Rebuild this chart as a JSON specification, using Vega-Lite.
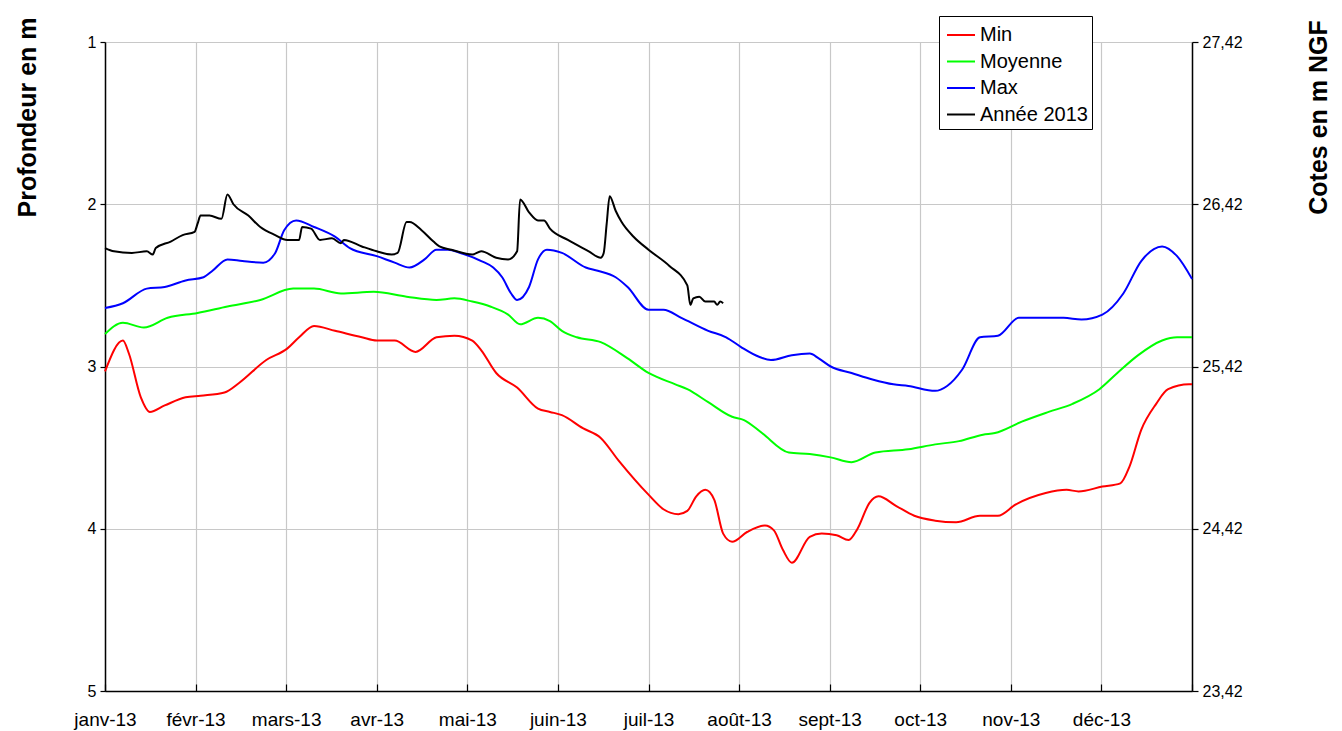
{
  "$schema": "https://vega.github.io/schema/vega-lite/v6.json",
  "width": 1087,
  "height": 649,
  "autosize": {"type": "none"},
  "padding": {"left": 105, "top": 42, "right": 150, "bottom": 40},
  "background": "white",
  "config": {
    "view": {"stroke": null},
    "font": "Liberation Sans",
    "axis": {"labelFont": "Liberation Sans", "titleFont": "Liberation Sans", "labelColor": "black", "titleColor": "black", "domainColor": "black", "tickColor": "black", "domainWidth": 1.5, "tickWidth": 1.2}
  },
  "data": {"values": [
    {"date":"2013-01-01","serie":"Min","profondeur":3.03},
    {"date":"2013-01-07","serie":"Min","profondeur":2.84},
    {"date":"2013-01-09","serie":"Min","profondeur":2.92},
    {"date":"2013-01-13","serie":"Min","profondeur":3.19},
    {"date":"2013-01-16","serie":"Min","profondeur":3.28},
    {"date":"2013-01-21","serie":"Min","profondeur":3.24},
    {"date":"2013-01-28","serie":"Min","profondeur":3.19},
    {"date":"2013-02-02","serie":"Min","profondeur":3.18},
    {"date":"2013-02-10","serie":"Min","profondeur":3.16},
    {"date":"2013-02-15","serie":"Min","profondeur":3.10},
    {"date":"2013-02-24","serie":"Min","profondeur":2.96},
    {"date":"2013-03-03","serie":"Min","profondeur":2.89},
    {"date":"2013-03-07","serie":"Min","profondeur":2.82},
    {"date":"2013-03-12","serie":"Min","profondeur":2.75},
    {"date":"2013-03-19","serie":"Min","profondeur":2.78},
    {"date":"2013-03-28","serie":"Min","profondeur":2.82},
    {"date":"2013-04-02","serie":"Min","profondeur":2.84},
    {"date":"2013-04-08","serie":"Min","profondeur":2.84},
    {"date":"2013-04-15","serie":"Min","profondeur":2.91},
    {"date":"2013-04-22","serie":"Min","profondeur":2.82},
    {"date":"2013-04-28","serie":"Min","profondeur":2.81},
    {"date":"2013-05-04","serie":"Min","profondeur":2.84},
    {"date":"2013-05-07","serie":"Min","profondeur":2.90},
    {"date":"2013-05-12","serie":"Min","profondeur":3.04},
    {"date":"2013-05-19","serie":"Min","profondeur":3.13},
    {"date":"2013-05-26","serie":"Min","profondeur":3.26},
    {"date":"2013-05-30","serie":"Min","profondeur":3.28},
    {"date":"2013-06-03","serie":"Min","profondeur":3.30},
    {"date":"2013-06-10","serie":"Min","profondeur":3.38},
    {"date":"2013-06-16","serie":"Min","profondeur":3.44},
    {"date":"2013-06-22","serie":"Min","profondeur":3.58},
    {"date":"2013-07-02","serie":"Min","profondeur":3.79},
    {"date":"2013-07-07","serie":"Min","profondeur":3.88},
    {"date":"2013-07-12","serie":"Min","profondeur":3.91},
    {"date":"2013-07-15","serie":"Min","profondeur":3.89},
    {"date":"2013-07-18","serie":"Min","profondeur":3.80},
    {"date":"2013-07-21","serie":"Min","profondeur":3.76},
    {"date":"2013-07-24","serie":"Min","profondeur":3.82},
    {"date":"2013-07-27","serie":"Min","profondeur":4.03},
    {"date":"2013-07-30","serie":"Min","profondeur":4.08},
    {"date":"2013-08-04","serie":"Min","profondeur":4.02},
    {"date":"2013-08-10","serie":"Min","profondeur":3.98},
    {"date":"2013-08-13","serie":"Min","profondeur":4.01},
    {"date":"2013-08-16","serie":"Min","profondeur":4.13},
    {"date":"2013-08-19","serie":"Min","profondeur":4.21},
    {"date":"2013-08-25","serie":"Min","profondeur":4.05},
    {"date":"2013-08-29","serie":"Min","profondeur":4.03},
    {"date":"2013-09-03","serie":"Min","profondeur":4.04},
    {"date":"2013-09-07","serie":"Min","profondeur":4.07},
    {"date":"2013-09-10","serie":"Min","profondeur":4.00},
    {"date":"2013-09-14","serie":"Min","profondeur":3.84},
    {"date":"2013-09-17","serie":"Min","profondeur":3.80},
    {"date":"2013-09-23","serie":"Min","profondeur":3.86},
    {"date":"2013-09-29","serie":"Min","profondeur":3.92},
    {"date":"2013-10-06","serie":"Min","profondeur":3.95},
    {"date":"2013-10-13","serie":"Min","profondeur":3.96},
    {"date":"2013-10-21","serie":"Min","profondeur":3.92},
    {"date":"2013-10-27","serie":"Min","profondeur":3.92},
    {"date":"2013-11-02","serie":"Min","profondeur":3.85},
    {"date":"2013-11-12","serie":"Min","profondeur":3.78},
    {"date":"2013-11-19","serie":"Min","profondeur":3.76},
    {"date":"2013-11-23","serie":"Min","profondeur":3.77},
    {"date":"2013-12-01","serie":"Min","profondeur":3.74},
    {"date":"2013-12-07","serie":"Min","profondeur":3.72},
    {"date":"2013-12-10","serie":"Min","profondeur":3.62},
    {"date":"2013-12-14","serie":"Min","profondeur":3.39},
    {"date":"2013-12-19","serie":"Min","profondeur":3.23},
    {"date":"2013-12-23","serie":"Min","profondeur":3.14},
    {"date":"2013-12-30","serie":"Min","profondeur":3.11},
    {"date":"2013-12-31","serie":"Min","profondeur":3.11},

    {"date":"2013-01-01","serie":"Moyenne","profondeur":2.80},
    {"date":"2013-01-07","serie":"Moyenne","profondeur":2.73},
    {"date":"2013-01-14","serie":"Moyenne","profondeur":2.76},
    {"date":"2013-01-22","serie":"Moyenne","profondeur":2.70},
    {"date":"2013-02-01","serie":"Moyenne","profondeur":2.67},
    {"date":"2013-02-11","serie":"Moyenne","profondeur":2.63},
    {"date":"2013-02-22","serie":"Moyenne","profondeur":2.59},
    {"date":"2013-03-05","serie":"Moyenne","profondeur":2.52},
    {"date":"2013-03-12","serie":"Moyenne","profondeur":2.52},
    {"date":"2013-03-21","serie":"Moyenne","profondeur":2.55},
    {"date":"2013-04-01","serie":"Moyenne","profondeur":2.54},
    {"date":"2013-04-12","serie":"Moyenne","profondeur":2.57},
    {"date":"2013-04-22","serie":"Moyenne","profondeur":2.59},
    {"date":"2013-04-28","serie":"Moyenne","profondeur":2.58},
    {"date":"2013-05-04","serie":"Moyenne","profondeur":2.60},
    {"date":"2013-05-10","serie":"Moyenne","profondeur":2.63},
    {"date":"2013-05-16","serie":"Moyenne","profondeur":2.68},
    {"date":"2013-05-20","serie":"Moyenne","profondeur":2.74},
    {"date":"2013-05-26","serie":"Moyenne","profondeur":2.70},
    {"date":"2013-05-30","serie":"Moyenne","profondeur":2.72},
    {"date":"2013-06-03","serie":"Moyenne","profondeur":2.78},
    {"date":"2013-06-08","serie":"Moyenne","profondeur":2.82},
    {"date":"2013-06-16","serie":"Moyenne","profondeur":2.85},
    {"date":"2013-06-25","serie":"Moyenne","profondeur":2.95},
    {"date":"2013-07-02","serie":"Moyenne","profondeur":3.04},
    {"date":"2013-07-11","serie":"Moyenne","profondeur":3.11},
    {"date":"2013-07-15","serie":"Moyenne","profondeur":3.14},
    {"date":"2013-07-22","serie":"Moyenne","profondeur":3.22},
    {"date":"2013-07-30","serie":"Moyenne","profondeur":3.31},
    {"date":"2013-08-03","serie":"Moyenne","profondeur":3.33},
    {"date":"2013-08-09","serie":"Moyenne","profondeur":3.41},
    {"date":"2013-08-18","serie":"Moyenne","profondeur":3.53},
    {"date":"2013-08-25","serie":"Moyenne","profondeur":3.54},
    {"date":"2013-09-01","serie":"Moyenne","profondeur":3.56},
    {"date":"2013-09-08","serie":"Moyenne","profondeur":3.59},
    {"date":"2013-09-16","serie":"Moyenne","profondeur":3.53},
    {"date":"2013-09-27","serie":"Moyenne","profondeur":3.51},
    {"date":"2013-10-06","serie":"Moyenne","profondeur":3.48},
    {"date":"2013-10-14","serie":"Moyenne","profondeur":3.46},
    {"date":"2013-10-22","serie":"Moyenne","profondeur":3.42},
    {"date":"2013-10-26","serie":"Moyenne","profondeur":3.41},
    {"date":"2013-11-04","serie":"Moyenne","profondeur":3.34},
    {"date":"2013-11-13","serie":"Moyenne","profondeur":3.28},
    {"date":"2013-11-21","serie":"Moyenne","profondeur":3.23},
    {"date":"2013-11-30","serie":"Moyenne","profondeur":3.14},
    {"date":"2013-12-06","serie":"Moyenne","profondeur":3.04},
    {"date":"2013-12-13","serie":"Moyenne","profondeur":2.93},
    {"date":"2013-12-21","serie":"Moyenne","profondeur":2.84},
    {"date":"2013-12-26","serie":"Moyenne","profondeur":2.82},
    {"date":"2013-12-31","serie":"Moyenne","profondeur":2.82},

    {"date":"2013-01-01","serie":"Max","profondeur":2.64},
    {"date":"2013-01-07","serie":"Max","profondeur":2.61},
    {"date":"2013-01-15","serie":"Max","profondeur":2.52},
    {"date":"2013-01-21","serie":"Max","profondeur":2.51},
    {"date":"2013-01-28","serie":"Max","profondeur":2.47},
    {"date":"2013-02-03","serie":"Max","profondeur":2.45},
    {"date":"2013-02-06","serie":"Max","profondeur":2.41},
    {"date":"2013-02-11","serie":"Max","profondeur":2.34},
    {"date":"2013-02-16","serie":"Max","profondeur":2.35},
    {"date":"2013-02-23","serie":"Max","profondeur":2.36},
    {"date":"2013-02-27","serie":"Max","profondeur":2.30},
    {"date":"2013-03-02","serie":"Max","profondeur":2.16},
    {"date":"2013-03-06","serie":"Max","profondeur":2.10},
    {"date":"2013-03-12","serie":"Max","profondeur":2.14},
    {"date":"2013-03-19","serie":"Max","profondeur":2.20},
    {"date":"2013-03-24","serie":"Max","profondeur":2.27},
    {"date":"2013-04-02","serie":"Max","profondeur":2.32},
    {"date":"2013-04-08","serie":"Max","profondeur":2.36},
    {"date":"2013-04-13","serie":"Max","profondeur":2.39},
    {"date":"2013-04-18","serie":"Max","profondeur":2.34},
    {"date":"2013-04-22","serie":"Max","profondeur":2.28},
    {"date":"2013-04-26","serie":"Max","profondeur":2.28},
    {"date":"2013-04-30","serie":"Max","profondeur":2.30},
    {"date":"2013-05-07","serie":"Max","profondeur":2.35},
    {"date":"2013-05-11","serie":"Max","profondeur":2.39},
    {"date":"2013-05-14","serie":"Max","profondeur":2.45},
    {"date":"2013-05-17","serie":"Max","profondeur":2.55},
    {"date":"2013-05-19","serie":"Max","profondeur":2.59},
    {"date":"2013-05-23","serie":"Max","profondeur":2.51},
    {"date":"2013-05-26","serie":"Max","profondeur":2.34},
    {"date":"2013-05-29","serie":"Max","profondeur":2.28},
    {"date":"2013-06-03","serie":"Max","profondeur":2.30},
    {"date":"2013-06-11","serie":"Max","profondeur":2.39},
    {"date":"2013-06-15","serie":"Max","profondeur":2.41},
    {"date":"2013-06-21","serie":"Max","profondeur":2.45},
    {"date":"2013-06-25","serie":"Max","profondeur":2.51},
    {"date":"2013-07-02","serie":"Max","profondeur":2.65},
    {"date":"2013-07-07","serie":"Max","profondeur":2.65},
    {"date":"2013-07-13","serie":"Max","profondeur":2.70},
    {"date":"2013-07-22","serie":"Max","profondeur":2.78},
    {"date":"2013-07-28","serie":"Max","profondeur":2.82},
    {"date":"2013-08-02","serie":"Max","profondeur":2.88},
    {"date":"2013-08-08","serie":"Max","profondeur":2.94},
    {"date":"2013-08-12","serie":"Max","profondeur":2.96},
    {"date":"2013-08-19","serie":"Max","profondeur":2.93},
    {"date":"2013-08-25","serie":"Max","profondeur":2.92},
    {"date":"2013-08-28","serie":"Max","profondeur":2.95},
    {"date":"2013-09-01","serie":"Max","profondeur":3.00},
    {"date":"2013-09-08","serie":"Max","profondeur":3.04},
    {"date":"2013-09-15","serie":"Max","profondeur":3.08},
    {"date":"2013-09-22","serie":"Max","profondeur":3.11},
    {"date":"2013-09-27","serie":"Max","profondeur":3.12},
    {"date":"2013-10-06","serie":"Max","profondeur":3.15},
    {"date":"2013-10-10","serie":"Max","profondeur":3.12},
    {"date":"2013-10-15","serie":"Max","profondeur":3.02},
    {"date":"2013-10-21","serie":"Max","profondeur":2.82},
    {"date":"2013-10-27","serie":"Max","profondeur":2.81},
    {"date":"2013-11-03","serie":"Max","profondeur":2.70},
    {"date":"2013-11-10","serie":"Max","profondeur":2.70},
    {"date":"2013-11-18","serie":"Max","profondeur":2.70},
    {"date":"2013-11-24","serie":"Max","profondeur":2.71},
    {"date":"2013-12-01","serie":"Max","profondeur":2.68},
    {"date":"2013-12-08","serie":"Max","profondeur":2.55},
    {"date":"2013-12-14","serie":"Max","profondeur":2.35},
    {"date":"2013-12-21","serie":"Max","profondeur":2.26},
    {"date":"2013-12-26","serie":"Max","profondeur":2.32},
    {"date":"2013-12-31","serie":"Max","profondeur":2.46},

    {"date":"2013-01-01","serie":"Année 2013","profondeur":2.27},
    {"date":"2013-01-04","serie":"Année 2013","profondeur":2.29},
    {"date":"2013-01-10","serie":"Année 2013","profondeur":2.30},
    {"date":"2013-01-15","serie":"Année 2013","profondeur":2.29},
    {"date":"2013-01-17","serie":"Année 2013","profondeur":2.31},
    {"date":"2013-01-18","serie":"Année 2013","profondeur":2.27},
    {"date":"2013-01-23","serie":"Année 2013","profondeur":2.23},
    {"date":"2013-01-27","serie":"Année 2013","profondeur":2.19},
    {"date":"2013-01-31","serie":"Année 2013","profondeur":2.17},
    {"date":"2013-02-01","serie":"Année 2013","profondeur":2.12},
    {"date":"2013-02-02","serie":"Année 2013","profondeur":2.07},
    {"date":"2013-02-05","serie":"Année 2013","profondeur":2.07},
    {"date":"2013-02-09","serie":"Année 2013","profondeur":2.09},
    {"date":"2013-02-11","serie":"Année 2013","profondeur":1.94},
    {"date":"2013-02-13","serie":"Année 2013","profondeur":2.00},
    {"date":"2013-02-18","serie":"Année 2013","profondeur":2.07},
    {"date":"2013-02-22","serie":"Année 2013","profondeur":2.14},
    {"date":"2013-02-27","serie":"Année 2013","profondeur":2.19},
    {"date":"2013-03-03","serie":"Année 2013","profondeur":2.22},
    {"date":"2013-03-07","serie":"Année 2013","profondeur":2.22},
    {"date":"2013-03-08","serie":"Année 2013","profondeur":2.14},
    {"date":"2013-03-11","serie":"Année 2013","profondeur":2.15},
    {"date":"2013-03-14","serie":"Année 2013","profondeur":2.22},
    {"date":"2013-03-18","serie":"Année 2013","profondeur":2.21},
    {"date":"2013-03-21","serie":"Année 2013","profondeur":2.24},
    {"date":"2013-03-22","serie":"Année 2013","profondeur":2.22},
    {"date":"2013-03-28","serie":"Année 2013","profondeur":2.26},
    {"date":"2013-04-02","serie":"Année 2013","profondeur":2.29},
    {"date":"2013-04-07","serie":"Année 2013","profondeur":2.31},
    {"date":"2013-04-09","serie":"Année 2013","profondeur":2.30},
    {"date":"2013-04-12","serie":"Année 2013","profondeur":2.11},
    {"date":"2013-04-13","serie":"Année 2013","profondeur":2.11},
    {"date":"2013-04-17","serie":"Année 2013","profondeur":2.16},
    {"date":"2013-04-21","serie":"Année 2013","profondeur":2.23},
    {"date":"2013-04-23","serie":"Année 2013","profondeur":2.26},
    {"date":"2013-04-27","serie":"Année 2013","profondeur":2.28},
    {"date":"2013-05-04","serie":"Année 2013","profondeur":2.31},
    {"date":"2013-05-07","serie":"Année 2013","profondeur":2.29},
    {"date":"2013-05-12","serie":"Année 2013","profondeur":2.33},
    {"date":"2013-05-16","serie":"Année 2013","profondeur":2.34},
    {"date":"2013-05-19","serie":"Année 2013","profondeur":2.29},
    {"date":"2013-05-20","serie":"Année 2013","profondeur":1.97},
    {"date":"2013-05-23","serie":"Année 2013","profondeur":2.05},
    {"date":"2013-05-26","serie":"Année 2013","profondeur":2.10},
    {"date":"2013-05-28","serie":"Année 2013","profondeur":2.10},
    {"date":"2013-05-30","serie":"Année 2013","profondeur":2.15},
    {"date":"2013-06-05","serie":"Année 2013","profondeur":2.22},
    {"date":"2013-06-12","serie":"Année 2013","profondeur":2.29},
    {"date":"2013-06-16","serie":"Année 2013","profondeur":2.33},
    {"date":"2013-06-17","serie":"Année 2013","profondeur":2.30},
    {"date":"2013-06-18","serie":"Année 2013","profondeur":2.12},
    {"date":"2013-06-19","serie":"Année 2013","profondeur":1.95},
    {"date":"2013-06-21","serie":"Année 2013","profondeur":2.04},
    {"date":"2013-06-23","serie":"Année 2013","profondeur":2.11},
    {"date":"2013-06-27","serie":"Année 2013","profondeur":2.20},
    {"date":"2013-07-02","serie":"Année 2013","profondeur":2.28},
    {"date":"2013-07-09","serie":"Année 2013","profondeur":2.38},
    {"date":"2013-07-15","serie":"Année 2013","profondeur":2.50},
    {"date":"2013-07-16","serie":"Année 2013","profondeur":2.62},
    {"date":"2013-07-17","serie":"Année 2013","profondeur":2.58},
    {"date":"2013-07-19","serie":"Année 2013","profondeur":2.57},
    {"date":"2013-07-21","serie":"Année 2013","profondeur":2.60},
    {"date":"2013-07-24","serie":"Année 2013","profondeur":2.60},
    {"date":"2013-07-25","serie":"Année 2013","profondeur":2.62},
    {"date":"2013-07-26","serie":"Année 2013","profondeur":2.60},
    {"date":"2013-07-27","serie":"Année 2013","profondeur":2.61}
  ]},
  "layer": [
    {
      "mark": {"type": "line", "interpolate": "monotone", "strokeWidth": 2},
      "encoding": {
        "x": {
          "field": "date", "type": "temporal",
          "scale": {"domain": [{"year": 2013, "month": 1, "date": 1, "utc": true}, {"year": 2013, "month": 12, "date": 31, "utc": true}]},
          "axis": {
            "title": null,
            "values": [
              {"year": 2013, "month": 1, "date": 1, "utc": true},
              {"year": 2013, "month": 1, "date": 31, "hours": 8, "utc": true},
              {"year": 2013, "month": 3, "date": 2, "hours": 16, "utc": true},
              {"year": 2013, "month": 4, "date": 2, "utc": true},
              {"year": 2013, "month": 5, "date": 2, "hours": 8, "utc": true},
              {"year": 2013, "month": 6, "date": 1, "hours": 16, "utc": true},
              {"year": 2013, "month": 7, "date": 2, "utc": true},
              {"year": 2013, "month": 8, "date": 1, "hours": 8, "utc": true},
              {"year": 2013, "month": 8, "date": 31, "hours": 16, "utc": true},
              {"year": 2013, "month": 10, "date": 1, "utc": true},
              {"year": 2013, "month": 10, "date": 31, "hours": 8, "utc": true},
              {"year": 2013, "month": 11, "date": 30, "hours": 16, "utc": true},
              {"year": 2013, "month": 12, "date": 31, "utc": true}
            ],
            "labelExpr": "['janv-13','févr-13','mars-13','avr-13','mai-13','juin-13','juil-13','août-13','sept-13','oct-13','nov-13','déc-13',''][round((datum.value - utc(2013,0,1)) / 2620800000)]",
            "labelFlush": false,
            "labelOverlap": false,
            "labelFontSize": 19,
            "grid": true,
            "gridColor": "#c8c8c8",
            "gridWidth": 1.2,
            "tickSize": -7,
            "labelPadding": 26
          }
        },
        "y": {
          "field": "profondeur", "type": "quantitative",
          "scale": {"domain": [1, 5], "reverse": true, "nice": false, "zero": false},
          "axis": {
            "values": [1, 2, 3, 4, 5],
            "format": "d",
            "title": "Profondeur en m",
            "titleFontSize": 25,
            "titleFontWeight": "bold",
            "titleAngle": 270,
            "titleX": -78,
            "titleY": 75,
            "titleAlign": "center",
            "titleBaseline": "middle",
            "labelFontSize": 16,
            "labelPadding": 4,
            "tickSize": 5,
            "grid": true,
            "gridColor": "#c8c8c8",
            "gridWidth": 1.2
          }
        },
        "color": {
          "field": "serie", "type": "nominal",
          "scale": {"domain": ["Min", "Moyenne", "Max", "Année 2013"], "range": ["#ff0000", "#00ff00", "#0000ff", "#000000"]},
          "legend": {
            "title": null,
            "orient": "none",
            "legendX": 834,
            "legendY": -26,
            "symbolType": "stroke",
            "symbolSize": 784,
            "symbolStrokeWidth": 2,
            "symbolOffset": 3,
            "labelFontSize": 20,
            "labelFont": "Liberation Sans",
            "labelColor": "black",
            "labelOffset": 4,
            "strokeColor": "black",
            "fillColor": "white",
            "padding": 4,
            "rowPadding": 1.5
          }
        }
      }
    },
    {
      "mark": {"type": "line", "opacity": 0},
      "encoding": {
        "x": {"field": "date", "type": "temporal"},
        "y": {
          "field": "profondeur", "type": "quantitative",
          "axis": {
            "orient": "right",
            "values": [1, 2, 3, 4, 5],
            "labelExpr": "replace(format(28.42 - datum.value, '.2f'), '.', ',')",
            "title": "Cotes en m NGF",
            "titleFontSize": 25,
            "titleFontWeight": "bold",
            "titleAngle": 270,
            "titleX": 126,
            "titleY": 75,
            "titleAlign": "center",
            "titleBaseline": "middle",
            "labelFontSize": 16,
            "labelPadding": 4,
            "tickSize": 6,
            "grid": false
          }
        }
      }
    }
  ],
  "resolve": {"axis": {"y": "independent"}}
}
